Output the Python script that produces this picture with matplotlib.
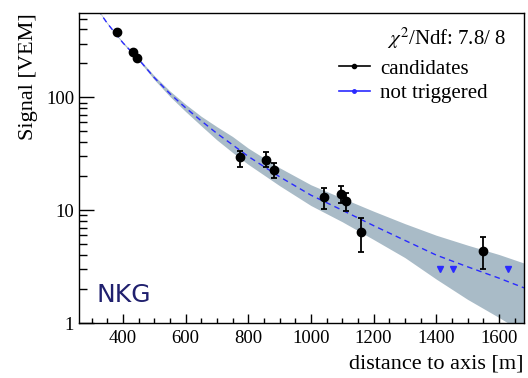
import matplotlib
matplotlib.use("Agg")
import matplotlib.pyplot as plt
from matplotlib.ticker import LogLocator, MultipleLocator, FixedLocator, FixedFormatter, NullFormatter

# candidate stations: distance [m], signal [VEM], lower / upper error
cand_r = [380, 433, 445, 773, 856, 882, 1042, 1097, 1111, 1161, 1548]
cand_s = [378, 251, 225, 29.4, 28.0, 22.8, 13.0, 13.9, 12.1, 6.4, 4.33]
cand_lo = [8, 6, 6, 5.0, 4.0, 3.7, 2.8, 2.2, 2.2, 2.1, 1.3]
cand_hi = [8, 6, 6, 4.2, 4.5, 3.5, 2.6, 2.6, 2.0, 2.2, 1.4]

# non-triggered stations
nt_r = [1411, 1453, 1628]
nt_s = [3.03, 3.03, 3.03]

# LDF fit (NKG), with its uncertainty band
fit_r = [320, 350, 400, 450, 500, 550, 600, 650, 700, 750, 800, 900, 1000,
         1100, 1200, 1300, 1400, 1500, 1600, 1680]
fit_s = [600, 455, 305, 218, 150, 108, 81, 62, 48, 38, 30, 19.8, 13.6,
         10.0, 7.3, 5.4, 4.0, 3.15, 2.5, 2.05]
band_lo = [594, 450, 300, 213, 144, 102, 75, 56, 42, 32.5, 25.5, 16.5, 11.0,
           7.9, 5.5, 3.8, 2.45, 1.62, 1.12, 0.82]
band_hi = [606, 460, 310, 223, 156, 114, 87, 68, 55, 45, 35.5, 23.8, 16.8,
           12.8, 9.8, 7.6, 6.0, 4.9, 4.05, 3.4]

x_ticks = [400, 600, 800, 1000, 1200, 1400, 1600]
y_ticks = [1, 10, 100]
y_ticklabels = ["1", "10", "100"]

plt.rcParams["font.family"] = ["Liberation Serif", "DejaVu Serif"]
plt.rcParams["mathtext.fontset"] = "stix"

fig = plt.figure(figsize=(5.28, 3.78), dpi=100)
ax = fig.add_axes([0.1496, 0.1455, 0.8428, 0.8201])

band_col = "#a9bbc7"
ax.fill_between(fit_r, band_lo, band_hi, color=band_col, lw=0, zorder=1)
ax.plot(fit_r, fit_s, color="#2a2aff", lw=1.0, ls=(0, (4, 3)), zorder=2)

ax.errorbar(cand_r, cand_s, yerr=[cand_lo, cand_hi], fmt="o", color="black",
            ms=6, elinewidth=1.3, capsize=2.5, capthick=1.3, zorder=4)
ax.plot(nt_r, nt_s, "v", color="#2a2aff", ms=5, zorder=3)

ax.set_yscale("log")
ax.set_xlim(260, 1680)
ax.set_ylim(1, 560)

ax.xaxis.set_major_locator(FixedLocator(x_ticks))
ax.xaxis.set_minor_locator(MultipleLocator(50))
ax.yaxis.set_major_locator(FixedLocator(y_ticks))
ax.yaxis.set_major_formatter(FixedFormatter(y_ticklabels))
ax.yaxis.set_minor_locator(LogLocator(base=10, subs=range(2, 10)))
ax.yaxis.set_minor_formatter(NullFormatter())

ax.tick_params(axis="both", which="both", direction="in", top=False, right=False,
               labelsize=13.5, width=1.0, color="black")
ax.tick_params(axis="y", which="major", length=11)
ax.tick_params(axis="y", which="minor", length=5.5)
ax.tick_params(axis="x", which="major", length=6.5, pad=5)
ax.tick_params(axis="x", which="minor", length=3.8)
for sp in ax.spines.values():
    sp.set_linewidth(1.0)

ax.set_xlabel("distance to axis [m]", fontsize=16, loc="right")
ax.xaxis.set_label_coords(1.0, -0.103)
ax.set_ylabel("Signal [VEM]", fontsize=16, loc="top")
ax.yaxis.set_label_coords(-0.092, 1.0)

ax.text(0.96, 0.919, r"$\chi^2$/Ndf: 7.8/ 8", transform=ax.transAxes,
        ha="right", va="center", fontsize=15)

h1, = ax.plot([], [], color="black", lw=1.2, marker="o", ms=3)
h2, = ax.plot([], [], color="#2a2aff", lw=1.2, marker="o", ms=2.5)
ax.legend([h1, h2], ["candidates", "not triggered"], loc="upper left",
          bbox_to_anchor=(0.56, 0.885), frameon=False, fontsize=15,
          handlelength=1.5, handletextpad=0.5, labelspacing=0.25, borderpad=0)

ax.text(0.04, 0.068, "NKG", transform=ax.transAxes, ha="left", va="baseline",
        fontsize=18, color="#20206e", family="DejaVu Sans")

fig.savefig("out.png", dpi=100)
